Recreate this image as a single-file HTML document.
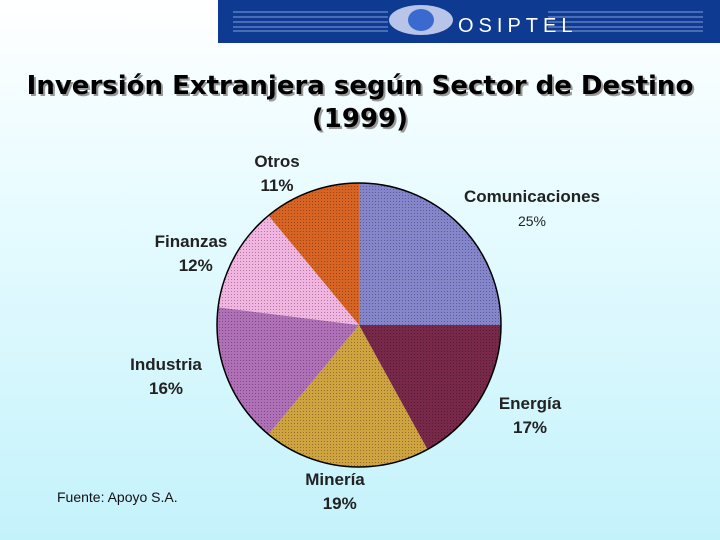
<!DOCTYPE html>
<html><head><meta charset="utf-8"><style>
body{margin:0;width:720px;height:540px;overflow:hidden;background:linear-gradient(#ffffff 0%,#e6fbff 40%,#c4f2fb 100%);font-family:"Liberation Sans",sans-serif;position:relative}
.lbl{position:absolute;font-size:17px;font-weight:bold;color:#222;text-align:center;line-height:24px}
</style></head><body>
<div style="position:absolute;left:218px;top:0;width:502px;height:43px;background:#0f3a92">
<svg width="502" height="43">
<g stroke="#9fb6ee" stroke-width="1" opacity="0.8">
<line x1="15" y1="12" x2="170" y2="12"/><line x1="15" y1="17" x2="170" y2="17"/><line x1="15" y1="22" x2="170" y2="22"/><line x1="15" y1="27" x2="170" y2="27"/><line x1="15" y1="31" x2="170" y2="31"/>
<line x1="330" y1="12" x2="485" y2="12"/><line x1="330" y1="17" x2="485" y2="17"/><line x1="330" y1="22" x2="485" y2="22"/><line x1="330" y1="27" x2="485" y2="27"/><line x1="330" y1="31" x2="485" y2="31"/>
</g>
<ellipse cx="203" cy="20" rx="32" ry="15" fill="#b8c4e8"/>
<ellipse cx="203" cy="20" rx="13" ry="11" fill="#3a6ad0"/>
<text x="240" y="32" fill="#ffffff" font-size="20" font-family="Liberation Sans" letter-spacing="5" transform="scale(1,1)">OSIPTEL</text>
</svg></div>
<div style="position:absolute;left:0;top:70px;width:720px;text-align:center;font-family:'DejaVu Sans',sans-serif;font-weight:bold;font-size:26px;line-height:33px;color:#000;text-shadow:2px 2px 0 #999">Inversión Extranjera según Sector de Destino<br>(1999)</div>
<svg id="pie" width="720" height="540" style="position:absolute;left:0;top:0">
<defs>
<pattern id="dots" width="3" height="3" patternUnits="userSpaceOnUse"><rect width="3" height="3" fill="none"/><rect width="1" height="1" fill="#000" opacity="0.3"/></pattern>
</defs>
</svg>
<div class="lbl" style="left:245px;top:150px;width:64px">Otros<br>11%</div>
<div class="lbl" style="left:452px;top:185px;width:160px">Comunicaciones<br><span style="font-weight:normal;font-size:14px">25%</span></div>
<div class="lbl" style="left:143px;top:230px;width:96px">Finanzas<br>&nbsp;&nbsp;12%</div>
<div class="lbl" style="left:118px;top:353px;width:96px">Industria<br>16%</div>
<div class="lbl" style="left:485px;top:392px;width:90px">Energía<br>17%</div>
<div class="lbl" style="left:290px;top:468px;width:90px">Minería<br>&nbsp;&nbsp;19%</div>
<div style="position:absolute;left:57px;top:489px;font-size:14px;color:#111">Fuente: Apoyo S.A.</div>
<script>
const categories=["Comunicaciones","Energía","Minería","Industria","Finanzas","Otros"];
const values=[25,17,19,16,12,11];
const colors=["#8585cc","#782848","#cfa440","#b070b8","#f2b4e0","#d86424"];
const svg=document.getElementById('pie');
const cx=359,cy=325,r=142;
const total=values.reduce((a,b)=>a+b,0);
let a0=0;
values.forEach((v,i)=>{
  const a1=a0+v/total*2*Math.PI;
  const x0=cx+r*Math.sin(a0),y0=cy-r*Math.cos(a0),x1=cx+r*Math.sin(a1),y1=cy-r*Math.cos(a1);
  const large=(a1-a0)>Math.PI?1:0;
  const d=`M${cx},${cy}L${x0},${y0}A${r},${r} 0 ${large} 1 ${x1},${y1}Z`;
  const p=document.createElementNS('http://www.w3.org/2000/svg','path');
  p.setAttribute('d',d);p.setAttribute('fill',colors[i]);
  
  
  svg.appendChild(p);
  const q=document.createElementNS('http://www.w3.org/2000/svg','path');
  q.setAttribute('d',d);q.setAttribute('fill','url(#dots)');
  
  
  svg.appendChild(q);
  a0=a1;
});
const c=document.createElementNS('http://www.w3.org/2000/svg','circle');
c.setAttribute('cx',cx);c.setAttribute('cy',cy);c.setAttribute('r',r);
c.setAttribute('fill','none');c.setAttribute('stroke','#000');c.setAttribute('stroke-width','1.5');


svg.appendChild(c);
</script>
</body></html>
